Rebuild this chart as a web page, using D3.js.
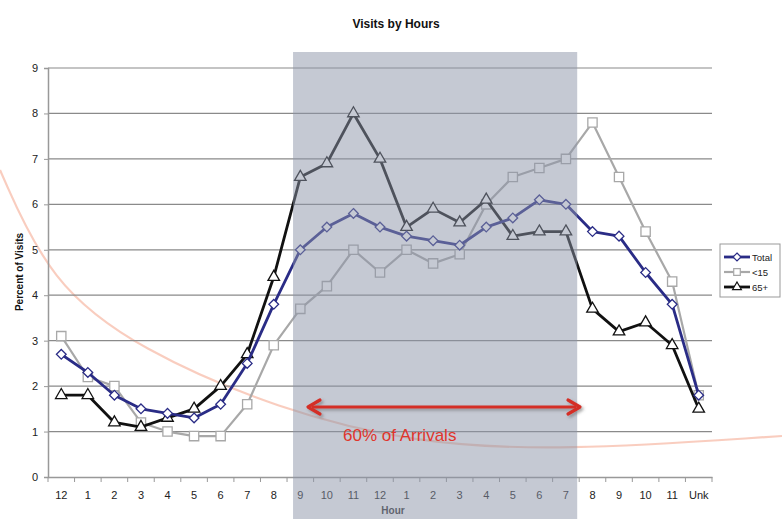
<!DOCTYPE html>
<html><head><meta charset="utf-8">
<script src="https://cdn.jsdelivr.net/npm/d3@7"></script>
<style>body{margin:0;background:#fff}svg{display:block;font-family:Arial,"Liberation Sans",sans-serif}</style>
</head><body><svg id="c" width="782" height="519"></svg>
<script>
const hours = ["12","1","2","3","4","5","6","7","8","9","10","11","12","1","2","3","4","5","6","7","8","9","10","11","Unk"];
const total = [2.7,2.3,1.8,1.5,1.4,1.3,1.6,2.5,3.8,5.0,5.5,5.8,5.5,5.3,5.2,5.1,5.5,5.7,6.1,6.0,5.4,5.3,4.5,3.8,1.8];
const under15 = [3.1,2.2,2.0,1.2,1.0,0.9,0.9,1.6,2.9,3.7,4.2,5.0,4.5,5.0,4.7,4.9,6.0,6.6,6.8,7.0,7.8,6.6,5.4,4.3,1.8];
const over65 = [1.8,1.8,1.2,1.1,1.3,1.5,2.0,2.7,4.4,6.6,6.9,8.0,7.0,5.5,5.9,5.6,6.1,5.3,5.4,5.4,3.7,3.2,3.4,2.9,1.5];
const yTicks = [0,1,2,3,4,5,6,7,8,9];
const seriesNames = ["Total","<15","65+"];
const shadeStart = 9, shadeEnd = 20; // category indices of the highlighted window (9 AM – 7 PM)

const svg = d3.select("#c");
const x = d3.scaleBand().domain(d3.range(hours.length)).range([48,712]);
const y = d3.scaleLinear().domain([0,9]).range([477,68]);
const cx = i => x(i) + x.bandwidth()/2;

// decorative faint arc
svg.append("path")
  .attr("d", d3.line().curve(d3.curveBasis)([[0,170],[50,283],[140,350],[280,410],[413,443],[560,451],[782,436]]))
  .attr("fill","none").attr("stroke","#f6b8a4").attr("stroke-width",2.2).attr("opacity",0.7);

// title
svg.append("text").attr("x",396).attr("y",28).attr("text-anchor","middle")
  .attr("font-size",12).attr("font-weight","bold").attr("fill","#111").text("Visits by Hours");

// grid
svg.append("g").selectAll("line").data(yTicks.filter(d=>d>0)).join("line")
  .attr("x1",48).attr("x2",712).attr("y1",d=>y(d)).attr("y2",d=>y(d))
  .attr("stroke","#8a8a8a").attr("stroke-width",1.2);

// y axis
const ya = svg.append("g").attr("transform","translate(48,0)")
  .call(d3.axisLeft(y).tickValues(yTicks).tickSize(4).tickPadding(6));
ya.select(".domain").attr("stroke","#999").attr("stroke-width",1.5);
ya.selectAll(".tick line").attr("stroke","#999");
ya.selectAll("text").attr("font-size",11).attr("fill","#222").attr("font-family","Arial");

// x axis
const xa = svg.append("g").attr("transform","translate(0,477)")
  .call(d3.axisBottom(x).tickFormat(i=>hours[i]).tickSize(0).tickPadding(14));
xa.select(".domain").attr("stroke","#999").attr("stroke-width",1.5);
xa.selectAll("text").attr("font-size",11).attr("fill","#222").attr("font-family","Arial");
xa.selectAll(".tick line").remove();
svg.append("g").selectAll("line").data(d3.range(hours.length+1)).join("line")
  .attr("x1",i=>48+i*x.step()).attr("x2",i=>48+i*x.step()).attr("y1",477).attr("y2",482)
  .attr("stroke","#999");

// axis titles
svg.append("text").attr("transform","translate(23,272) rotate(-90)").attr("text-anchor","middle")
  .attr("font-size",10).attr("font-weight","bold").attr("fill","#111").text("Percent of Visits");
svg.append("text").attr("x",393).attr("y",514).attr("text-anchor","middle")
  .attr("font-size",10).attr("font-weight","bold").attr("fill","#333").text("Hour");

const line = d3.line().x((d,i)=>cx(i)).y(d=>y(d));
const sym = {
  diamond: d3.symbol().type(d3.symbolDiamond2).size(60),
  square: d3.symbol().type(d3.symbolSquare2).size(110),
  tri: d3.symbol().type(d3.symbolTriangle2).size(95)
};
const series = [
  {name:seriesNames[1], data:under15, color:"#a8a8a8", w:2.2, s:"square"},
  {name:seriesNames[2], data:over65, color:"#111111", w:2.8, s:"tri"},
  {name:seriesNames[0], data:total, color:"#2a2c86", w:2.8, s:"diamond"}
];
series.forEach(se=>{
  const g = svg.append("g");
  g.append("path").attr("d",line(se.data)).attr("fill","none")
    .attr("stroke",se.color).attr("stroke-width",se.w).attr("stroke-linejoin","round");
  g.selectAll("path.m").data(se.data).join("path").attr("class","m")
    .attr("transform",(d,i)=>`translate(${cx(i)},${y(d)})`)
    .attr("d",sym[se.s]()).attr("fill","#fff").attr("stroke",se.color).attr("stroke-width",1.3);
});

// translucent highlight window
svg.append("rect").attr("x",x(shadeStart)+6).attr("y",52)
  .attr("width",x(shadeEnd)-2-(x(shadeStart)+6)).attr("height",467)
  .attr("fill","rgb(139,147,167)").attr("opacity",0.5);

// arrow
const ay = 407, ax1 = 308, ax2 = 580;
const defs = svg.append("defs");
const f = defs.append("filter").attr("id","sh").attr("x","-10%").attr("y","-100%").attr("width","120%").attr("height","300%");
f.append("feDropShadow").attr("dx",2).attr("dy",2).attr("stdDeviation",1.5).attr("flood-color","#555").attr("flood-opacity",0.5);
const ag = svg.append("g").attr("filter","url(#sh)");
ag.append("line").attr("x1",ax1+4).attr("x2",ax2-4).attr("y1",ay).attr("y2",ay)
  .attr("stroke","#d42e26").attr("stroke-width",3);
ag.append("path").attr("d",`M${ax1+12},${ay-7} L${ax1},${ay} L${ax1+12},${ay+7}`)
  .attr("fill","none").attr("stroke","#d42e26").attr("stroke-width",3.2).attr("stroke-linejoin","round").attr("stroke-linecap","round");
ag.append("path").attr("d",`M${ax2-12},${ay-7} L${ax2},${ay} L${ax2-12},${ay+7}`)
  .attr("fill","none").attr("stroke","#d42e26").attr("stroke-width",3.2).attr("stroke-linejoin","round").attr("stroke-linecap","round");
svg.append("text").attr("x",343).attr("y",441).attr("font-size",17).attr("fill","#e0352c").text("60% of Arrivals");

// legend
const lg = svg.append("g").attr("transform","translate(720,244)");
lg.append("rect").attr("width",60).attr("height",53).attr("fill","#fff").attr("stroke","#999");
[series[2],series[0],series[1]].forEach((se,k)=>{
  const yy = 13 + k*15;
  lg.append("line").attr("x1",4).attr("x2",30).attr("y1",yy).attr("y2",yy).attr("stroke",se.color).attr("stroke-width",se.w);
  lg.append("path").attr("transform",`translate(17,${yy})`).attr("d",d3.symbol().type(
    se.s==="diamond"?d3.symbolDiamond2:se.s==="square"?d3.symbolSquare2:d3.symbolTriangle2).size(se.s==="diamond"?40:55)())
    .attr("fill","#fff").attr("stroke",se.color).attr("stroke-width",1.2);
  lg.append("text").attr("x",32).attr("y",yy+3.5).attr("font-size",9.5).attr("fill","#222").text(se.name);
});
</script></body></html>
